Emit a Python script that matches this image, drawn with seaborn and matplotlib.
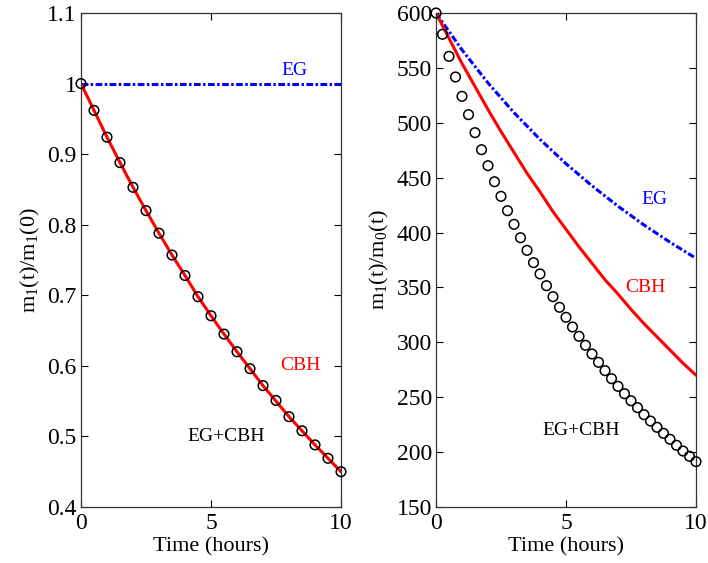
import numpy as np
import pandas as pd
import matplotlib
matplotlib.use("Agg")
import matplotlib.pyplot as plt
import seaborn as sns

# ---- data ----
t_half = [0, 0.5, 1, 1.5, 2, 2.5, 3, 3.5, 4, 4.5, 5, 5.5, 6, 6.5, 7, 7.5, 8, 8.5, 9, 9.5, 10]
left_cbh = [1.000, 0.962, 0.924, 0.888, 0.853, 0.820, 0.788, 0.757, 0.728, 0.698, 0.671,
            0.645, 0.620, 0.596, 0.572, 0.550, 0.528, 0.508, 0.488, 0.469, 0.450]
left_egcbh = [1.000, 0.962, 0.924, 0.888, 0.853, 0.820, 0.788, 0.757, 0.728, 0.698, 0.671,
              0.645, 0.620, 0.596, 0.572, 0.551, 0.528, 0.508, 0.488, 0.469, 0.450]
t_eg_left = [0, 10]
left_eg = [1.0, 1.0]

right_cbh = [600, 577, 554, 533, 512, 492, 473, 454, 437, 419, 403,
             387, 372, 357, 344, 330, 317, 305, 293, 281, 270]
t_int = [0, 1, 2, 3, 4, 5, 6, 7, 8, 9, 10]
right_eg = [600, 566.4, 536.3, 509.2, 484.9, 462.7, 442.6, 424.0, 406.9, 391.2, 376.5]
t_quarter = [0, 0.25, 0.5, 0.75, 1, 1.25, 1.5, 1.75, 2, 2.25, 2.5, 2.75, 3, 3.25, 3.5, 3.75,
             4, 4.25, 4.5, 4.75, 5, 5.25, 5.5, 5.75, 6, 6.25, 6.5, 6.75, 7, 7.25, 7.5, 7.75,
             8, 8.25, 8.5, 8.75, 9, 9.25, 9.5, 9.75, 10]
right_egcbh = [600, 580.6, 560.5, 541.7, 524.1, 507.4, 491.0, 475.5, 460.9, 446.3, 433.0,
               419.9, 407.5, 395.3, 383.8, 372.6, 362.3, 351.6, 341.6, 331.9, 322.8, 314.0,
               305.5, 297.3, 289.4, 281.8, 274.2, 266.9, 259.9, 253.2, 246.8, 240.5, 234.1,
               228.3, 222.6, 217.1, 211.7, 206.2, 201.0, 196.2, 191.3]

sns.set_theme(style="ticks")
plt.rcParams['font.family'] = ['Liberation Serif', 'DejaVu Serif']
plt.rcParams['mathtext.fontset'] = 'custom'
plt.rcParams['mathtext.rm'] = 'Liberation Serif'
plt.rcParams['mathtext.it'] = 'Liberation Serif'
plt.rcParams['text.color'] = 'black'
plt.rcParams['axes.labelcolor'] = 'black'

fig = plt.figure(figsize=(7.08, 5.63), dpi=100)
axL = fig.add_axes([81/708, 56/563, 260/708, 494/563])
axR = fig.add_axes([436/708, 56/563, 260/708, 494/563])

BLUE = (0, 0, 1)
RED = (1, 0, 0)
eg_dash = (0, (2.2, 0.8, 0.8, 0.8))

# Left panel
sns.lineplot(x=t_eg_left, y=left_eg, ax=axL, color=BLUE, lw=2.2, linestyle=eg_dash)
sns.lineplot(x=t_half, y=left_cbh, ax=axL, color=RED, lw=2.2)
sns.scatterplot(x=t_half, y=left_egcbh, ax=axL, marker='o', s=48,
                facecolor='none', edgecolor='black', linewidth=1.1, zorder=5, clip_on=False)
axL.set_xlim(0, 10)
axL.set_ylim(0.4, 1.1)
axL.set_xticks([0, 5, 10])
axL.set_yticks([0.4, 0.5, 0.6, 0.7, 0.8, 0.9, 1.0, 1.1])
axL.set_yticklabels(['0.4', '0.5', '0.6', '0.7', '0.8', '0.9', '1', '1.1'])
axL.set_xlabel('Time (hours)', fontsize=16, labelpad=3)
axL.set_ylabel(r'm$_1$(t)/m$_1$(0)', fontsize=16, labelpad=4)
axL.text(8.2, 1.018, 'EG', color=BLUE, fontsize=14, ha='center', va='center')
axL.text(8.45, 0.6, 'CBH', color=RED, fontsize=14, ha='center', va='center')
axL.text(5.6, 0.5, 'EG+CBH', color='black', fontsize=14, ha='center', va='center')

# Right panel
sns.lineplot(x=t_int, y=right_eg, ax=axR, color=BLUE, lw=2.2, linestyle=eg_dash)
sns.lineplot(x=t_half, y=right_cbh, ax=axR, color=RED, lw=2.2)
sns.scatterplot(x=t_quarter, y=right_egcbh, ax=axR, marker='o', s=48,
                facecolor='none', edgecolor='black', linewidth=1.1, zorder=5, clip_on=False)
axR.set_xlim(0, 10)
axR.set_ylim(150, 600)
axR.set_xticks([0, 5, 10])
axR.set_yticks(list(range(150, 601, 50)))
axR.set_xlabel('Time (hours)', fontsize=16, labelpad=3)
axR.set_ylabel(r'm$_1$(t)/m$_0$(t)', fontsize=16, labelpad=4)
axR.text(8.4, 430, 'EG', color=BLUE, fontsize=14, ha='center', va='center')
axR.text(8.05, 350, 'CBH', color=RED, fontsize=14, ha='center', va='center')
axR.text(5.6, 220, 'EG+CBH', color='black', fontsize=14, ha='center', va='center')

for ax in (axL, axR):
    for sp in ax.spines.values():
        sp.set_visible(True)
        sp.set_color('#333333')
        sp.set_linewidth(0.9)
    ax.tick_params(direction='in', length=5, width=0.8, top=True, right=True,
                   labelsize=17, pad=3, colors='black')
    ax.tick_params(axis='x', pad=4)
    ax.grid(False)

fig.savefig('out.png', dpi=100)
